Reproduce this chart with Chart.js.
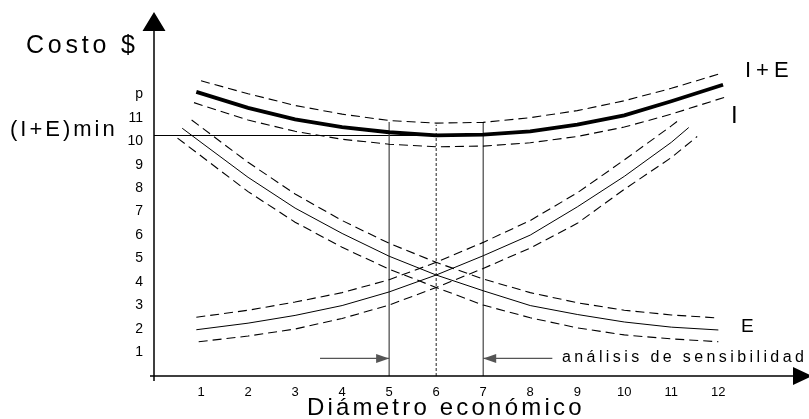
<!DOCTYPE html>
<html>
<head>
<meta charset="utf-8">
<script src="https://cdn.jsdelivr.net/npm/chart.js@4.4.0/dist/chart.umd.min.js"></script>
<style>
  html, body { margin: 0; padding: 0; background: #fff; }
  #wrap { width: 809px; height: 419px; }
</style>
</head>
<body>
<div id="wrap"><canvas id="myChart" width="809" height="419"></canvas></div>
<script>
// eje x: diametro (1..12, n)
const xTicks = ['', '1', '2', '3', '4', '5', '6', '7', '8', '9', '10', '11', '12', 'n']
// eje y: costo (1..11, p)
const yTicks = ['', '1', '2', '3', '4', '5', '6', '7', '8', '9', '10', '11', 'p']

// curva total I+E
const xTotal = [0.9, 2, 3, 4, 5, 6, 7, 8, 9, 10, 11, 12.1]
const yTotal = [12.1, 11.42, 10.93, 10.6, 10.38, 10.25, 10.28, 10.42, 10.7, 11.1, 11.7, 12.4]
const xTotalUp = [1, 2, 3, 4, 5, 6, 7, 8, 9, 10, 11, 12]
const yTotalUp = [12.57, 12.02, 11.52, 11.15, 10.88, 10.77, 10.8, 11.0, 11.3, 11.72, 12.25, 12.85]
const xTotalLow = [0.85, 2, 3, 4, 5, 6, 7, 8, 9, 10, 11, 12.15]
const yTotalLow = [11.64, 10.9, 10.42, 10.08, 9.87, 9.76, 9.79, 9.93, 10.2, 10.6, 11.15, 11.88]

// curva E (decreciente)
const xE = [0.6, 1, 2, 3, 4, 5, 6, 7, 8, 9, 10, 11, 12]
const yE = [10.55, 9.95, 8.46, 7.15, 6.07, 5.1, 4.3, 3.63, 3.0, 2.62, 2.3, 2.08, 1.96]
const xEUp = [0.8, 2, 3, 4, 5, 6, 7, 8, 9, 10, 11, 12]
const yEUp = [10.9, 9.1, 7.75, 6.62, 5.65, 4.84, 4.13, 3.55, 3.12, 2.8, 2.6, 2.47]
const xELow = [0.5, 2, 3, 4, 5, 6, 7, 8, 9, 10, 11, 12]
const yELow = [10.13, 7.85, 6.55, 5.48, 4.55, 3.77, 3.02, 2.48, 2.05, 1.75, 1.58, 1.46]

// curva I (creciente)
const xI = [0.9, 2, 3, 4, 5, 6, 7, 8, 9, 10, 11, 11.37]
const yI = [1.97, 2.25, 2.58, 3.0, 3.58, 4.3, 5.12, 6.0, 7.2, 8.5, 9.95, 10.58]
const xIUp = [0.9, 2, 3, 4, 5, 6, 7, 8, 9, 10, 11, 11.2]
const yIUp = [2.5, 2.8, 3.15, 3.55, 4.1, 4.84, 5.69, 6.62, 7.8, 9.2, 10.65, 10.96]
const xILow = [0.95, 2, 3, 4, 5, 6, 7, 8, 9, 10, 11, 11.55]
const yILow = [1.46, 1.7, 2.0, 2.45, 3.02, 3.77, 4.58, 5.45, 6.5, 7.95, 9.3, 10.2]

// optimo y rango de sensibilidad
const nMin = 5, nOpt = 6, nMax = 7
const costMin = 10.24
const topLimit = [10.82, 10.7, 10.8]
const arrowY = 0.75
const arrowLeftFrom = 3.53, arrowRightFrom = 8.47

const pts = (xs, ys) => xs.map((x, i) => ({ x: x, y: ys[i] }))

const line = (data, width, dash, color) => ({
  data: data,
  borderColor: color || '#000',
  borderWidth: width,
  borderDash: dash || [],
  pointRadius: 0,
  tension: 0,
  fill: false
})

const DASH = [9, 5]

const datasets = [
  line(pts(xTotal, yTotal), 3.8),
  line(pts(xTotalUp, yTotalUp), 1.1, DASH),
  line(pts(xTotalLow, yTotalLow), 1.1, DASH),
  line(pts(xE, yE), 1),
  line(pts(xEUp, yEUp), 1.1, DASH),
  line(pts(xELow, yELow), 1.1, DASH),
  line(pts(xI, yI), 1),
  line(pts(xIUp, yIUp), 1.1, DASH),
  line(pts(xILow, yILow), 1.1, DASH),
  line([{ x: nMin, y: 0 }, { x: nMin, y: topLimit[0] }], 1.2, [], '#444'),
  line([{ x: nOpt, y: 0 }, { x: nOpt, y: topLimit[1] }], 1, [3, 2], '#222'),
  line([{ x: nMax, y: 0 }, { x: nMax, y: topLimit[2] }], 1.2, [], '#444'),
  line([{ x: 0, y: costMin }, { x: nMax, y: costMin }], 1.1),
  Object.assign(line([{ x: arrowLeftFrom, y: arrowY }, { x: nMin, y: arrowY }], 1.3, [], '#555'), { arrow: true }),
  Object.assign(line([{ x: arrowRightFrom, y: arrowY }, { x: nMax, y: arrowY }], 1.3, [], '#555'), { arrow: true })
]

const FONT = '"Liberation Sans", Arial, sans-serif'

const labels = [
  { t: 'Costo $', x: 26, y: 46, size: 25, sp: 3.8 },
  { t: '(I+E)min', x: 10, y: 130, size: 22, sp: 3 },
  { t: 'I+E', x: 745, y: 71, size: 22, sp: 5 },
  { t: 'I', x: 731, y: 116, size: 24, sp: 0 },
  { t: 'E', x: 741, y: 327, size: 19, sp: 0 },
  { t: 'análisis de sensibilidad', x: 562, y: 358, size: 16, sp: 3.4 },
  { t: 'Diámetro económico', x: 307, y: 408, size: 24, sp: 3.2 }
]

const extras = {
  id: 'extras',
  afterDraw(chart) {
    const ctx = chart.ctx
    const xs = chart.scales.x, ys = chart.scales.y
    const x0 = xs.getPixelForValue(0), y0 = ys.getPixelForValue(0)
    ctx.save()
    ctx.strokeStyle = '#000'
    ctx.fillStyle = '#000'
    ctx.lineWidth = 1.5
    ctx.beginPath()
    ctx.moveTo(x0 - 4, y0); ctx.lineTo(xs.right - 8, y0)
    ctx.moveTo(x0, y0 + 5); ctx.lineTo(x0, ys.top + 18)
    ctx.stroke()
    // flechas de los ejes
    ctx.beginPath()
    ctx.moveTo(x0, ys.top); ctx.lineTo(x0 - 11.5, ys.top + 19); ctx.lineTo(x0 + 11.5, ys.top + 19); ctx.closePath()
    ctx.moveTo(xs.right + 9, y0); ctx.lineTo(xs.right - 10, y0 - 9); ctx.lineTo(xs.right - 10, y0 + 9); ctx.closePath()
    ctx.fill()
    // puntas del analisis de sensibilidad
    chart.data.datasets.forEach((ds, i) => {
      if (!ds.arrow) return
      const p = chart.getDatasetMeta(i).data
      const a = p[0], b = p[p.length - 1]
      const dir = Math.sign(b.x - a.x)
      ctx.fillStyle = ds.borderColor
      ctx.beginPath()
      ctx.moveTo(b.x, b.y)
      ctx.lineTo(b.x - dir * 13, b.y - 4.5)
      ctx.lineTo(b.x - dir * 13, b.y + 4.5)
      ctx.closePath()
      ctx.fill()
    })
    // textos
    ctx.fillStyle = '#000'
    ctx.textBaseline = 'middle'
    ctx.textAlign = 'left'
    labels.forEach(l => {
      ctx.font = l.size + 'px ' + FONT
      ctx.letterSpacing = l.sp + 'px'
      ctx.fillText(l.t, l.x, l.y)
    })
    ctx.restore()
  }
}

const ctx = document.getElementById('myChart')
const chart = new Chart(ctx, {
  type: 'line',
  data: { datasets: datasets },
  plugins: [extras],
  options: {
    responsive: false,
    animation: false,
    events: [],
    layout: { padding: { left: 0, right: 6, top: 12, bottom: 0 } },
    plugins: { legend: { display: false }, tooltip: { enabled: false } },
    scales: {
      x: {
        type: 'linear',
        min: 0,
        max: 13.8,
        grid: { display: false },
        border: { display: false },
        afterFit: (s) => { s.height = 43 },
        ticks: {
          stepSize: 1,
          autoSkip: false,
          maxRotation: 0,
          padding: 1,
          color: '#000',
          font: { family: FONT, size: 13 },
          callback: (v) => Number.isInteger(v) ? (xTicks[v] || '') : ''
        }
      },
      y: {
        type: 'linear',
        min: 0,
        max: 15.5,
        grid: { display: false },
        border: { display: false },
        afterFit: (s) => { s.width = 154 },
        ticks: {
          stepSize: 1,
          autoSkip: false,
          padding: 3,
          color: '#000',
          font: { family: FONT, size: 14 },
          callback: (v) => Number.isInteger(v) ? (yTicks[v] || '') : ''
        }
      }
    }
  }
})
</script>
</body>
</html>
